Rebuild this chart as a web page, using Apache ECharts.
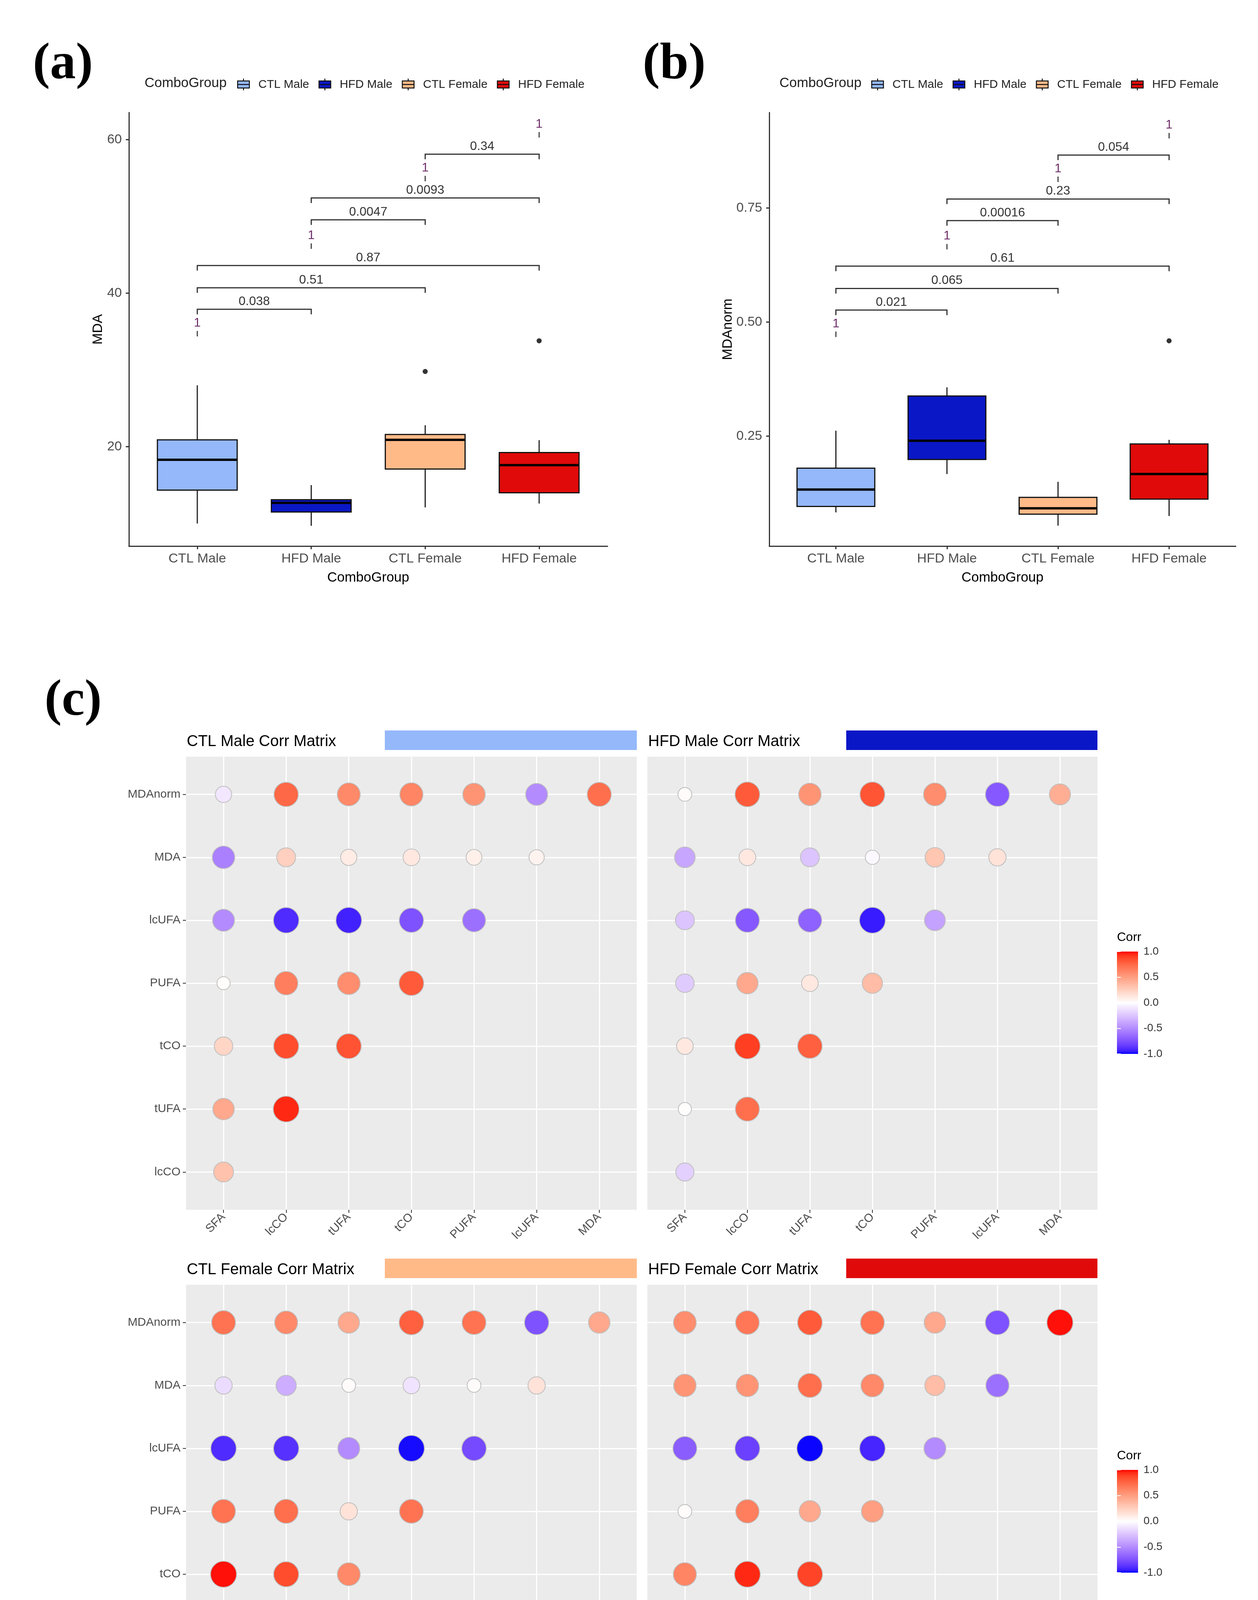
<!DOCTYPE html>
<html>
<head>
<meta charset="utf-8">
<script src="https://cdn.jsdelivr.net/npm/echarts@6.0.0/dist/echarts.min.js"></script>
<style>
  html, body { margin: 0; padding: 0; background: #fff; }
  #chart { width: 3220px; height: 4573px; }
</style>
</head>
<body>
<div id="chart"></div>
<script>
// ---- data ----
const groups = ['CTL Male', 'HFD Male', 'CTL Female', 'HFD Female'];

// box stats: [min, Q1, median, Q3, max]
const mdaStats = [
  [10.0, 14.35, 18.3, 20.9, 28.0],
  [9.7, 11.5, 12.7, 13.1, 15.0],
  [12.1, 17.1, 20.9, 21.6, 22.8],
  [12.6, 14.0, 17.6, 19.25, 20.85]
];
const mdaOutliers = [[3, 29.8], [4, 33.8]];
const mdaTicks = [20, 40, 60];
// [group from, group to, y, p label]
const mdaBrackets = [
  [1, 2, 37.9, '0.038'], [1, 3, 40.7, '0.51'], [1, 4, 43.6, '0.87'],
  [2, 3, 49.55, '0.0047'], [2, 4, 52.4, '0.0093'], [3, 4, 58.1, '0.34']
];
const mdaSelf = [[1, 36.1], [2, 47.5], [3, 56.3], [4, 62.0]];

const mdaNormStats = [
  [0.083, 0.096, 0.133, 0.180, 0.262],
  [0.167, 0.199, 0.240, 0.338, 0.357],
  [0.054, 0.079, 0.092, 0.116, 0.150],
  [0.075, 0.112, 0.167, 0.233, 0.242]
];
const mdaNormOutliers = [[4, 0.459]];
const mdaNormTicks = [0.25, 0.5, 0.75];
const mdaNormBrackets = [
  [1, 2, 0.5264, '0.021'], [1, 3, 0.5738, '0.065'], [1, 4, 0.6228, '0.61'],
  [2, 3, 0.7224, '0.00016'], [2, 4, 0.7698, '0.23'], [3, 4, 0.8661, '0.054']
];
const mdaNormSelf = [[1, 0.4964], [2, 0.6884], [3, 0.8361], [4, 0.9317]];
const selfLabel = '1';

// correlation matrices (lower triangle), rows top -> bottom
const xVars = ['SFA', 'lcCO', 'tUFA', 'tCO', 'PUFA', 'lcUFA', 'MDA'];
const yVars = ['MDAnorm', 'MDA', 'lcUFA', 'PUFA', 'tCO', 'tUFA', 'lcCO'];
const ctlMaleCorr = [
  [-0.10, 0.75, 0.60, 0.62, 0.55, -0.50, 0.72],
  [-0.55, 0.25, 0.10, 0.12, 0.08, 0.06],
  [-0.50, -0.90, -0.93, -0.75, -0.62],
  [0.01, 0.65, 0.58, 0.80],
  [0.22, 0.85, 0.83],
  [0.45, 0.95],
  [0.32]
];
const hfdMaleCorr = [
  [0.02, 0.80, 0.55, 0.82, 0.58, -0.72, 0.42],
  [-0.38, 0.12, -0.25, -0.03, 0.30, 0.15],
  [-0.25, -0.72, -0.68, -0.95, -0.40],
  [-0.22, 0.45, 0.12, 0.35],
  [0.12, 0.90, 0.78],
  [0.01, 0.72],
  [-0.20]
];
const ctlFemaleCorr = [
  [0.70, 0.60, 0.45, 0.78, 0.70, -0.75, 0.45],
  [-0.15, -0.35, 0.02, -0.12, 0.02, 0.15],
  [-0.90, -0.88, -0.50, -0.98, -0.78],
  [0.70, 0.72, 0.15, 0.70],
  [0.98, 0.85, 0.60],
  [0.45, 0.45],
  [0.82]
];
const hfdFemaleCorr = [
  [0.58, 0.68, 0.80, 0.70, 0.45, -0.75, 0.98],
  [0.55, 0.55, 0.72, 0.60, 0.35, -0.62],
  [-0.70, -0.82, -0.99, -0.92, -0.50],
  [0.02, 0.65, 0.45, 0.50],
  [0.62, 0.95, 0.88],
  [0.78, 0.78],
  [0.55]
];
const corrTicks = [-1, -0.5, 0, 0.5, 1];

// ---- styles ----
const SANS = '"Liberation Sans", Arial, sans-serif';
const SERIF = '"Liberation Serif", "DejaVu Serif", serif';
const groupColors = ['#94B8FA', '#0A17C6', '#FFBA88', '#E00A0A'];
const AXIS_TXT = '#4D4D4D';
const BOX_W = 0.7;

// lab colour ramp like scale_fill_gradient2(low=blue, mid=white, high=red)
function toLin(c) { c /= 255; return c <= 0.04045 ? c / 12.92 : Math.pow((c + 0.055) / 1.055, 2.4); }
function toSrgb(c) {
  c = c <= 0.0031308 ? 12.92 * c : 1.055 * Math.pow(c, 1 / 2.4) - 0.055;
  return Math.round(Math.max(0, Math.min(1, c)) * 255);
}
function rgb2lab(rgb) {
  const r = toLin(rgb[0]), g = toLin(rgb[1]), b = toLin(rgb[2]);
  const x = (0.4124 * r + 0.3576 * g + 0.1805 * b) / 0.95047;
  const y = 0.2126 * r + 0.7152 * g + 0.0722 * b;
  const z = (0.0193 * r + 0.1192 * g + 0.9505 * b) / 1.08883;
  const f = t => t > 0.008856 ? Math.cbrt(t) : 7.787 * t + 16 / 116;
  return [116 * f(y) - 16, 500 * (f(x) - f(y)), 200 * (f(y) - f(z))];
}
function lab2hex(lab) {
  const fy = (lab[0] + 16) / 116, fx = fy + lab[1] / 500, fz = fy - lab[2] / 200;
  const inv = t => t * t * t > 0.008856 ? t * t * t : (t - 16 / 116) / 7.787;
  const x = inv(fx) * 0.95047, y = inv(fy), z = inv(fz) * 1.08883;
  const r = 3.2406 * x - 1.5372 * y - 0.4986 * z;
  const g = -0.9689 * x + 1.8758 * y + 0.0415 * z;
  const b = 0.0557 * x - 0.2040 * y + 1.0570 * z;
  return '#' + [r, g, b].map(v => toSrgb(v).toString(16).padStart(2, '0')).join('');
}
const labLow = rgb2lab([0, 0, 255]), labMid = rgb2lab([255, 255, 255]), labHigh = rgb2lab([255, 0, 0]);
function corrColor(v) {
  const end = v < 0 ? labLow : labHigh, t = Math.abs(v);
  return lab2hex(labMid.map((m, i) => m + (end[i] - m) * t));
}
const rampColors = [];
for (let i = 0; i <= 40; i++) rampColors.push(corrColor(-1 + i / 20));

// ---- layout ----
const boxGrids = [
  { left: 330, top: 288, width: 1225, height: 1110 },
  { left: 1969, top: 288, width: 1194, height: 1110 }
];
const corrGrids = [
  { left: 476, top: 1937, width: 1154, height: 1160 },
  { left: 1657, top: 1937, width: 1152, height: 1160 },
  { left: 476, top: 3289, width: 1154, height: 1160 },
  { left: 1657, top: 3289, width: 1152, height: 1160 }
];
const barGrids = [
  { left: 2859, top: 2436, width: 54, height: 262 },
  { left: 2859, top: 3763, width: 54, height: 263 }
];

const grid = [], xAxis = [], yAxis = [], series = [], graphic = [];

// ---- box plot panels ----
function boxPanel(pi, stats, outliers, ticks, yMin, yMax, yName, nameGap, brackets, self, fmt) {
  grid.push(boxGrids[pi]);
  xAxis.push({
    gridIndex: pi, type: 'value', min: 0.4, max: 4.6,
    name: 'ComboGroup', nameLocation: 'middle', nameGap: 64,
    nameTextStyle: { fontFamily: SANS, fontSize: 35, color: '#000' },
    axisLine: { lineStyle: { color: '#333', width: 3 } },
    axisTick: { customValues: [1, 2, 3, 4], length: 8, lineStyle: { color: '#333', width: 3 } },
    axisLabel: { customValues: [1, 2, 3, 4], formatter: v => groups[v - 1], margin: 16,
      fontFamily: SANS, fontSize: 34, color: AXIS_TXT },
    splitLine: { show: false }
  });
  yAxis.push({
    gridIndex: pi, type: 'value', min: yMin, max: yMax,
    name: yName, nameLocation: 'middle', nameGap: nameGap, nameRotate: 90,
    nameTextStyle: { fontFamily: SANS, fontSize: 35, color: '#000' },
    axisLine: { lineStyle: { color: '#333', width: 3 } },
    axisTick: { customValues: ticks, length: 8, lineStyle: { color: '#333', width: 3 } },
    axisLabel: { customValues: ticks, formatter: fmt, margin: 18,
      fontFamily: SANS, fontSize: 34, color: AXIS_TXT },
    splitLine: { show: false }
  });
  groups.forEach((g, gi) => {
    series.push({
      type: 'custom', name: g, xAxisIndex: pi, yAxisIndex: pi,
      itemStyle: { color: groupColors[gi], borderColor: '#000' },
      encode: { x: 0, y: [1, 2, 3, 4, 5] },
      data: [[gi + 1].concat(stats[gi])],
      renderItem: (params, api) => {
        const x = api.value(0);
        const p = [1, 2, 3, 4, 5].map(d => api.coord([x, api.value(d)]));
        const half = api.size([BOX_W, 0])[0] / 2;
        const cx = p[0][0];
        return {
          type: 'group', children: [
            { type: 'line', shape: { x1: cx, y1: p[0][1], x2: cx, y2: p[1][1] }, style: { stroke: '#222', lineWidth: 3 } },
            { type: 'line', shape: { x1: cx, y1: p[3][1], x2: cx, y2: p[4][1] }, style: { stroke: '#222', lineWidth: 3 } },
            { type: 'rect', shape: { x: cx - half, y: p[3][1], width: half * 2, height: p[1][1] - p[3][1] },
              style: { fill: groupColors[gi], stroke: '#111', lineWidth: 3 } },
            { type: 'line', shape: { x1: cx - half, y1: p[2][1], x2: cx + half, y2: p[2][1] }, style: { stroke: '#000', lineWidth: 6 } }
          ]
        };
      }
    });
  });
  series.push({
    type: 'scatter', xAxisIndex: pi, yAxisIndex: pi, symbolSize: 13,
    itemStyle: { color: '#000' }, data: outliers, silent: true
  });
  series.push({
    type: 'custom', xAxisIndex: pi, yAxisIndex: pi, silent: true,
    encode: { x: [0, 1], y: 2 },
    data: brackets.map(b => [b[0], b[1], b[2]]),
    renderItem: (params, api) => {
      const a = api.coord([api.value(0), api.value(2)]);
      const b = api.coord([api.value(1), api.value(2)]);
      return {
        type: 'group', children: [
          { type: 'polyline', shape: { points: [[a[0], a[1] + 13], a, b, [b[0], b[1] + 13]] },
            style: { stroke: '#333', lineWidth: 3, fill: null } },
          { type: 'text', style: { text: brackets[params.dataIndex][3], x: (a[0] + b[0]) / 2, y: a[1] - 4,
            textAlign: 'center', textVerticalAlign: 'bottom', font: '32px ' + SANS, fill: '#333' } }
        ]
      };
    }
  });
  series.push({
    type: 'custom', xAxisIndex: pi, yAxisIndex: pi, silent: true,
    encode: { x: 0, y: 1 },
    data: self,
    renderItem: (params, api) => {
      const c = api.coord([api.value(0), api.value(1)]);
      return {
        type: 'group', children: [
          { type: 'text', style: { text: selfLabel, x: c[0], y: c[1], textAlign: 'center', textVerticalAlign: 'middle',
            font: '32px ' + SANS, fill: '#6E2F6A' } },
          { type: 'line', shape: { x1: c[0], y1: c[1] + 20, x2: c[0], y2: c[1] + 34 }, style: { stroke: '#444', lineWidth: 3 } }
        ]
      };
    }
  });
}

boxPanel(0, mdaStats, mdaOutliers, mdaTicks, 7.06, 63.53, 'MDA', 61, mdaBrackets, mdaSelf, v => String(v));
boxPanel(1, mdaNormStats, mdaNormOutliers, mdaNormTicks, 0.0091, 0.9594, 'MDAnorm', 87, mdaNormBrackets, mdaNormSelf, v => v.toFixed(2));

// ---- correlation panels ----
const corrSets = [ctlMaleCorr, hfdMaleCorr, ctlFemaleCorr, hfdFemaleCorr];
const corrTitles = ['CTL Male Corr Matrix', 'HFD Male Corr Matrix', 'CTL Female Corr Matrix', 'HFD Female Corr Matrix'];
const corrSeriesIdx = [];
corrSets.forEach((m, k) => {
  const gi = grid.length;
  const showY = k % 2 === 0;
  grid.push(Object.assign({ show: true, backgroundColor: '#EBEBEB', borderWidth: 0 }, corrGrids[k]));
  const common = {
    gridIndex: gi, type: 'value', min: 0.4, max: 7.6,
    axisLine: { show: false },
    splitLine: { show: true, lineStyle: { color: '#fff', width: 3 } }
  };
  xAxis.push(Object.assign({}, common, {
    axisTick: { customValues: [1, 2, 3, 4, 5, 6, 7], length: 8, lineStyle: { color: '#333', width: 2 } },
    axisLabel: { customValues: [1, 2, 3, 4, 5, 6, 7], formatter: v => xVars[v - 1], rotate: 45, margin: 14,
      fontFamily: SANS, fontSize: 30, color: AXIS_TXT }
  }));
  yAxis.push(Object.assign({}, common, {
    axisTick: { show: showY, customValues: [1, 2, 3, 4, 5, 6, 7], length: 8, lineStyle: { color: '#333', width: 2 } },
    axisLabel: { show: showY, customValues: [1, 2, 3, 4, 5, 6, 7], formatter: v => yVars[7 - v], margin: 14,
      fontFamily: SANS, fontSize: 30, color: AXIS_TXT }
  }));
  const pts = [];
  m.forEach((row, i) => row.forEach((v, j) => pts.push([j + 1, 7 - i, v])));
  corrSeriesIdx.push(series.length);
  series.push({
    type: 'scatter', xAxisIndex: gi, yAxisIndex: gi, data: pts, silent: true,
    symbolSize: val => 30 + 37 * Math.sqrt(Math.abs(val[2])),
    itemStyle: { borderColor: '#BEBEBE', borderWidth: 2, opacity: 1 }
  });
  const g = corrGrids[k];
  graphic.push({
    type: 'text', left: g.left + 2, top: g.top - 58,
    style: { text: corrTitles[k], font: '40px ' + SANS, fill: '#000' }
  });
  graphic.push({
    type: 'rect', shape: { x: g.left + 509, y: g.top - 67, width: g.width - 509, height: 50 },
    style: { fill: groupColors[k] }
  });
});

// ---- colour bars ----
barGrids.forEach((b, k) => {
  const gi = grid.length;
  grid.push(b);
  xAxis.push({ gridIndex: gi, type: 'value', min: 0, max: 1, show: false });
  yAxis.push({
    gridIndex: gi, type: 'value', min: -1, max: 1, interval: 0.5, position: 'right', z: 10,
    axisLine: { show: false }, splitLine: { show: false },
    axisTick: { inside: true, length: 10, lineStyle: { color: '#fff', width: 2 } },
    axisLabel: { formatter: v => v.toFixed(1), margin: 14, fontFamily: SANS, fontSize: 28, color: '#333' }
  });
  yAxis.push({
    gridIndex: gi, type: 'value', min: -1, max: 1, interval: 0.5, position: 'left', z: 10,
    axisLine: { show: false }, splitLine: { show: false }, axisLabel: { show: false },
    axisTick: { inside: true, length: 10, lineStyle: { color: '#fff', width: 2 } }
  });
  const yi = yAxis.length - 2;
  series.push({
    type: 'custom', xAxisIndex: gi, yAxisIndex: yi, silent: true, data: [[0, 0]],
    renderItem: (params, api) => {
      const t = api.coord([0, corrTicks[corrTicks.length - 1]]);
      const e = api.coord([1, corrTicks[0]]);
      return {
        type: 'rect', shape: { x: t[0], y: t[1], width: e[0] - t[0], height: e[1] - t[1] },
        style: {
          fill: {
            type: 'linear', x: 0, y: 0, x2: 0, y2: 1,
            colorStops: rampColors.map((c, i) => ({ offset: 1 - i / (rampColors.length - 1), color: c })).reverse()
          }
        }
      };
    }
  });
  graphic.push({
    type: 'text', left: b.left, top: b.top - 52,
    style: { text: 'Corr', font: '32px ' + SANS, fill: '#000' }
  });
});

// ---- panel letters and legend titles ----
[['(a)', 84, 100], ['(b)', 1645, 100], ['(c)', 114, 1730]].forEach(l => {
  graphic.push({ type: 'text', left: l[1], top: l[2], style: { text: l[0], font: 'bold 132px ' + SERIF, fill: '#000' } });
});
[370, 1995].forEach(x => {
  graphic.push({ type: 'text', left: x, top: 196, style: { text: 'ComboGroup', font: '35px ' + SANS, fill: '#222' } });
});

const legendIcon = 'path://M0,4H20V16H0Z M0,10H20 M10,0V4 M10,16V20';
const legend = [607, 2230].map(x => ({
  left: x, top: 200, padding: 0, orient: 'horizontal',
  data: groups, icon: legendIcon, itemWidth: 38, itemHeight: 30, itemGap: 24,
  itemStyle: { borderColor: '#111', borderWidth: 2.5 },
  textStyle: { fontFamily: SANS, fontSize: 30, color: '#222', padding: [0, 0, 0, 14] },
  selectedMode: false
}));

const chart = echarts.init(document.getElementById('chart'));
chart.setOption({
  animation: false,
  backgroundColor: '#fff',
  grid: grid,
  xAxis: xAxis,
  yAxis: yAxis,
  legend: legend,
  visualMap: {
    type: 'continuous', show: false, min: -1, max: 1, dimension: 2,
    seriesIndex: corrSeriesIdx, inRange: { color: rampColors }
  },
  graphic: graphic,
  series: series
});
</script>
</body>
</html>
